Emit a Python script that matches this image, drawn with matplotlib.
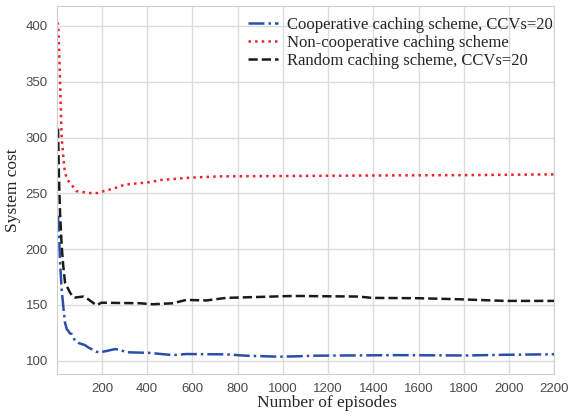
import numpy as np
import matplotlib.pyplot as plt
import seaborn as sns

# datos
coop_x = [5, 9, 15, 22, 29, 37, 45, 51, 58, 66, 81, 95, 110, 125, 139, 176, 191, 220, 257, 279,
          301, 323, 411, 514, 573, 749, 837, 984, 1072, 1130, 1512, 1806, 1982, 2200]
coop_y = [230, 222, 188, 164, 149, 134, 128, 127, 124.5, 124, 118, 116, 115, 114, 112, 108,
          107.5, 108.7, 110.4, 110, 108, 107.5, 107, 105, 106, 105.7, 104.5, 103.6, 104, 104.5,
          105, 104.7, 105.3, 105.8]

noncoop_x = [1, 7, 15, 22, 28, 33, 38, 45, 60, 72, 87, 135, 158, 180, 227, 248, 302, 411,
             462, 587, 719, 1000, 1400, 1800, 2200]
noncoop_y = [403, 401.5, 350, 300, 286, 274, 268, 263, 259, 256, 252, 250.6, 250, 250.3, 253,
             254, 257.8, 260, 262, 264, 265.2, 265.5, 266, 266.3, 267]

random_x = [6, 10, 15, 22, 29, 37, 59, 73, 81, 117, 140, 176, 198, 260, 367, 425, 514, 573,
            661, 749, 953, 1042, 1072, 1336, 1393, 1600, 1790, 1982, 2200]
random_y = [308, 265, 232, 203, 185, 170, 161, 157, 156.6, 157.5, 155, 149.7, 152, 151.8,
            151.5, 150.6, 151.5, 154.5, 154, 156.3, 157.5, 158, 158, 157.5, 156.3, 156, 155,
            153.6, 153.6]

labels = ["Cooperative caching scheme, CCVs=20",
          "Non-cooperative caching scheme",
          "Random caching scheme, CCVs=20"]
xticks = np.arange(200, 2201, 200)
yticks = np.arange(100, 401, 50)

sns.set_style("whitegrid")
plt.rcParams['font.family'] = ['Liberation Sans', 'DejaVu Sans']

fig = plt.figure(figsize=(5.69, 4.18), dpi=100)
ax = fig.add_axes([0.100, 0.105, 0.874, 0.881])

ax.plot(coop_x, coop_y, linestyle="-.", color="#2b4fa8", linewidth=1.8, label=labels[0])
ax.plot(noncoop_x, noncoop_y, linestyle=":", color="#f2202c", linewidth=1.8, label=labels[1])
ax.plot(random_x, random_y, linestyle="--", color="#1a1a1a", linewidth=1.8, label=labels[2])

ax.set_xlim(1, 2200)
ax.set_ylim(88, 418)
ax.set_xticks(xticks)
ax.set_yticks(yticks)
ax.tick_params(labelsize=9.5, colors="#4a4a4a", pad=3)
for s in ax.spines.values():
    s.set_color("#d0d0d0")
ax.grid(True, color="#dcdcdc", linewidth=1)

serif = ['Liberation Serif', 'DejaVu Serif']
ax.set_xlabel("Number of episodes", family=serif, fontsize=12.5)
ax.set_ylabel("System cost", family=serif, fontsize=12.5, labelpad=3)
ax.xaxis.set_label_coords(0.543, -0.058)

ax.legend(loc="upper right", bbox_to_anchor=(1.0, 0.975), frameon=False,
          prop={'family': serif, 'size': 12}, handlelength=1.75, handletextpad=0.55,
          borderpad=0.1, borderaxespad=0, labelspacing=0.13)

fig.savefig("out.png", dpi=100)
